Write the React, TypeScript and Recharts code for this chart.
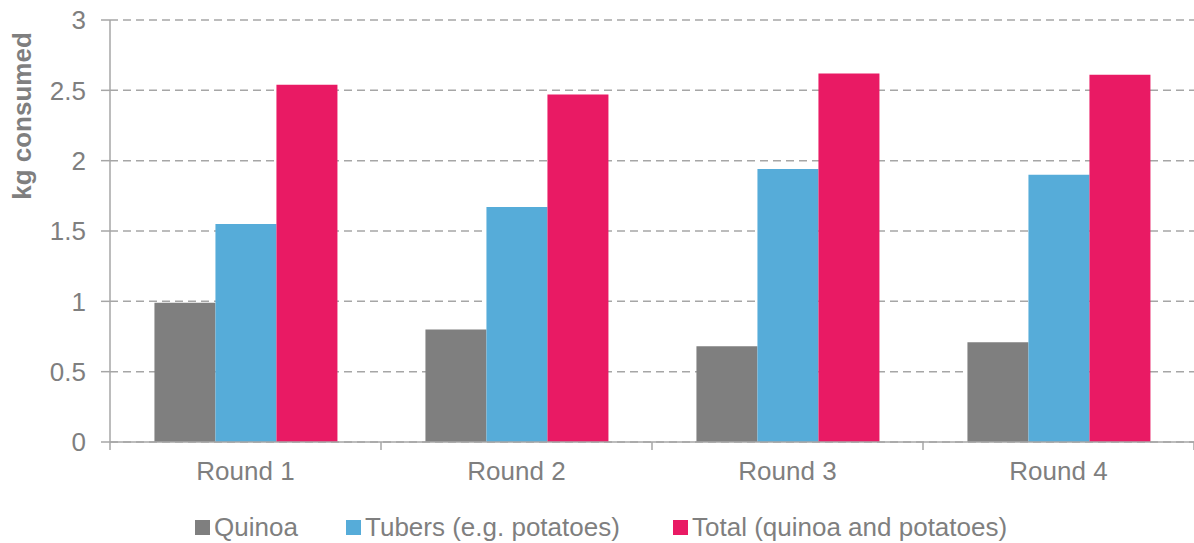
import React from 'react';
import { BarChart, Bar, XAxis, YAxis, CartesianGrid, Legend } from 'recharts';

const rounds = ['Round 1', 'Round 2', 'Round 3', 'Round 4'];
const quinoa = [0.99, 0.8, 0.68, 0.71];
const tubers = [1.55, 1.67, 1.94, 1.9];
const total = [2.54, 2.47, 2.62, 2.61];
const yTicks = [0, 0.5, 1, 1.5, 2, 2.5, 3];

const seriesNames = ['Quinoa', 'Tubers (e.g. potatoes)', 'Total (quinoa and potatoes)'];
const seriesKeys = ['quinoa', 'tubers', 'total'];
const seriesColors = ['#7f7f7f', '#56acd9', '#e91a64'];

const data = rounds.map((r, i) => ({
  name: r,
  quinoa: quinoa[i],
  tubers: tubers[i],
  total: total[i],
}));

const FONT = '"Liberation Sans", Arial, sans-serif';
const TEXT = '#7f7f7f';
const LINE = '#a6a6a6';
const FS = 26;
const legendLefts = [0, 151, 478];

const XTick = (props: any) => {
  const { x, y, payload, index } = props;
  const off = payload.offset || 0;
  const axisY = y - 20;
  return (
    <g>
      <line x1={x - off} x2={x - off} y1={axisY} y2={axisY + 8} stroke={LINE} strokeWidth={1.5} />
      {index === rounds.length - 1 && (
        <line x1={x + off} x2={x + off} y1={axisY} y2={axisY + 8} stroke={LINE} strokeWidth={1.5} />
      )}
      <text x={x} y={y} dy="0.71em" textAnchor="middle" fill={TEXT} fontSize={FS} fontFamily={FONT}>
        {payload.value}
      </text>
    </g>
  );
};

const renderLegend = () => (
  <div style={{ position: 'relative', height: 30, fontFamily: FONT, fontSize: FS, color: TEXT }}>
    {seriesNames.map((n, i) => (
      <div
        key={n}
        style={{ position: 'absolute', left: legendLefts[i], top: 0, display: 'flex', alignItems: 'center', whiteSpace: 'nowrap', height: 30 }}
      >
        <span style={{ display: 'inline-block', width: 15, height: 15, background: seriesColors[i], marginRight: 4 }} />
        <span>{n}</span>
      </div>
    ))}
  </div>
);

export default function App() {
  return (
    <div style={{ position: 'absolute', left: 0, top: 0, width: 1194, height: 543, background: '#fff' }}>
      <BarChart
        width={1194}
        height={543}
        data={data}
        margin={{ top: 20, right: 0, left: 0, bottom: 0 }}
        barCategoryGap="16.4%"
        barGap={0}
      >
        <CartesianGrid vertical={false} stroke={LINE} strokeDasharray="8 5" strokeWidth={1.5} />
        <XAxis
          dataKey="name"
          height={101}
          axisLine={{ stroke: LINE, strokeWidth: 1.5 }}
          tickLine={false}
          tickSize={8}
          tickMargin={12}
          interval={0}
          tick={<XTick />}
        />
        <YAxis
          width={110}
          domain={[0, 3]}
          ticks={yTicks}
          interval={0}
          axisLine={{ stroke: LINE, strokeWidth: 1.5 }}
          tickLine={{ stroke: LINE, strokeWidth: 1.5 }}
          tickSize={9}
          tickMargin={15}
          tick={{ fill: TEXT, fontSize: FS, fontFamily: FONT }}
          label={{
            content: () => (
              <text
                x={22}
                y={116}
                transform="rotate(-90, 22, 116)"
                textAnchor="middle"
                dominantBaseline="central"
                fill={TEXT}
                fontSize={26}
                fontWeight="bold"
                fontFamily={FONT}
              >
                kg consumed
              </text>
            ),
          }}
        />
        <Legend
          verticalAlign="middle"
          layout="horizontal"
          content={renderLegend}
          wrapperStyle={{ top: 512, left: 195, width: 990, height: 30 }}
        />
        {seriesKeys.map((k, i) => (
          <Bar key={k} dataKey={k} name={seriesNames[i]} fill={seriesColors[i]} isAnimationActive={false} />
        ))}
      </BarChart>
    </div>
  );
}
